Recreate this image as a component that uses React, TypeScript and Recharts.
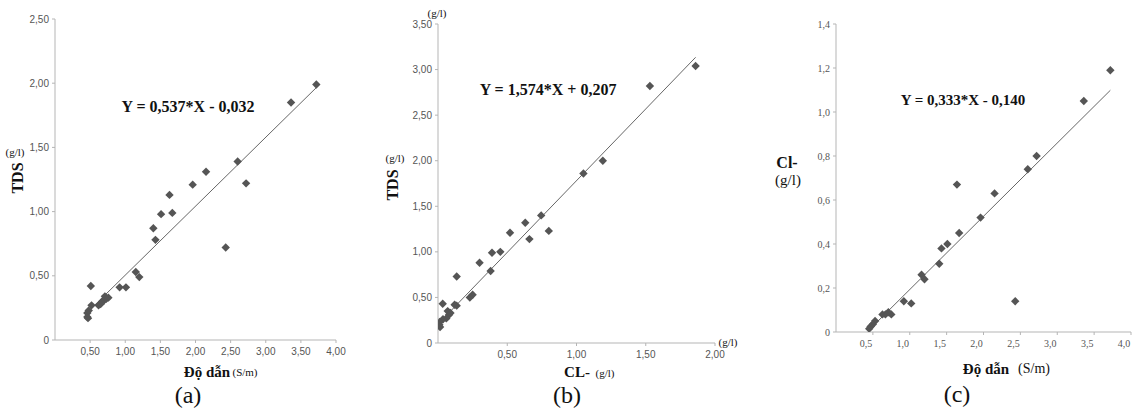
import React from "react";
import { ScatterChart, Scatter, XAxis, YAxis } from "recharts";

// (a) TDS vs conductivity
const condA = [3.72, 3.36, 2.6, 2.72, 2.43, 2.15, 1.96, 1.63, 1.67, 1.51, 1.4, 1.43, 1.15, 1.2, 1.01, 0.92, 0.51, 0.52, 0.62, 0.65, 0.67, 0.7, 0.71, 0.73, 0.76, 0.46, 0.46, 0.47, 0.48];
const tdsA = [1.99, 1.85, 1.39, 1.22, 0.72, 1.31, 1.21, 1.13, 0.99, 0.98, 0.87, 0.78, 0.53, 0.49, 0.41, 0.41, 0.42, 0.27, 0.27, 0.28, 0.3, 0.31, 0.34, 0.32, 0.33, 0.21, 0.18, 0.17, 0.23];

// (b) TDS vs Cl-
const clB = [1.86, 1.53, 1.19, 1.05, 0.745, 0.8, 0.63, 0.66, 0.52, 0.45, 0.39, 0.38, 0.3, 0.135, 0.25, 0.23, 0.135, 0.12, 0.034, 0.07, 0.08, 0.06, 0.036, 0.012, 0.01, 0.015, 0.09];
const tdsB = [3.04, 2.82, 2.0, 1.86, 1.4, 1.23, 1.32, 1.14, 1.21, 1.0, 0.99, 0.79, 0.88, 0.73, 0.53, 0.5, 0.41, 0.42, 0.43, 0.35, 0.31, 0.27, 0.26, 0.23, 0.2, 0.175, 0.33];

// (c) Cl- vs conductivity
const condC = [3.72, 3.36, 2.72, 2.6, 2.15, 1.96, 1.64, 1.67, 1.51, 1.43, 1.4, 1.16, 1.2, 0.92, 1.02, 2.43, 0.75, 0.71, 0.67, 0.63, 0.53, 0.5, 0.47, 0.45];
const clC = [1.19, 1.05, 0.8, 0.74, 0.63, 0.52, 0.67, 0.45, 0.4, 0.38, 0.31, 0.26, 0.24, 0.14, 0.13, 0.14, 0.08, 0.09, 0.08, 0.08, 0.05, 0.035, 0.025, 0.015];

const fitA = { slope: 0.537, intercept: -0.032, range: [0.46, 3.72] };
const fitB = { slope: 1.574, intercept: 0.207, range: [0.005, 1.86] };
const fitC = { slope: 0.333, intercept: -0.14, range: [0.46, 3.72] };

const ticksA = { x: [0.5, 1, 1.5, 2, 2.5, 3, 3.5, 4], y: [0, 0.5, 1, 1.5, 2, 2.5] };
const ticksB = { x: [0.5, 1, 1.5, 2], y: [0, 0.5, 1, 1.5, 2, 2.5, 3, 3.5] };
const ticksC = { x: [0.5, 1, 1.5, 2, 2.5, 3, 3.5, 4], y: [0, 0.2, 0.4, 0.6, 0.8, 1, 1.2, 1.4] };

const zip = (xs: number[], ys: number[]) => xs.map((x, i) => ({ x, y: ys[i] }));
const line = (f: { slope: number; intercept: number; range: number[] }) =>
  f.range.map((x) => ({ x, y: f.slope * x + f.intercept }));

const Diamond = (p: any) => {
  const { cx, cy } = p;
  const r = 4.2;
  return <path d={`M${cx},${cy - r}L${cx + r},${cy}L${cx},${cy + r}L${cx - r},${cy}Z`} fill="#555" />;
};

const fmt = (d: number) => (v: number) => (v === 0 ? "0" : v.toFixed(d).replace(".", ","));

const serif = "Liberation Serif, DejaVu Serif, Noto Serif, Times New Roman, serif";
const sans = "Liberation Sans, Arial, sans-serif";

const Txt = ({ x, y, size, bold, rot, children }: any) => (
  <div
    style={{
      position: "absolute",
      left: x,
      top: y,
      transform: `translate(-50%, -50%)${rot ? " rotate(-90deg)" : ""}`,
      fontFamily: serif,
      fontSize: size,
      fontWeight: bold ? "bold" : "normal",
      whiteSpace: "nowrap",
      color: "#111",
      lineHeight: 1,
    }}
  >
    {children}
  </div>
);

const Panel = ({ left, width, margin, points, fit, ticks, xMax, yMax, digits, tickFont, tickDx }: any) => {
  const tick = { fontSize: 10, fontFamily: tickFont, fill: "#555" };
  return (
    <div style={{ position: "absolute", left, top: 0 }}>
      <ScatterChart width={width} height={410} margin={margin}>
        <XAxis
          type="number"
          dataKey="x"
          domain={[0, xMax]}
          ticks={ticks.x}
          tickFormatter={fmt(digits)}
          height={30}
          tickSize={3}
          tickMargin={5}
          stroke="#b5b5b5"
          tick={{ ...tick, dx: tickDx }}
          allowDataOverflow
        />
        <YAxis
          type="number"
          dataKey="y"
          domain={[0, yMax]}
          ticks={ticks.y}
          tickFormatter={fmt(digits)}
          width={40}
          tickSize={3}
          tickMargin={3}
          stroke="#b5b5b5"
          tick={tick}
          allowDataOverflow
        />
        <Scatter data={fit} line={{ stroke: "#666", strokeWidth: 1 }} shape={() => <g />} isAnimationActive={false} />
        <Scatter data={points} shape={<Diamond />} isAnimationActive={false} />
      </ScatterChart>
    </div>
  );
};

export default function App() {
  return (
    <div style={{ position: "absolute", left: 0, top: 0, width: 1143, height: 410, background: "#fff", overflow: "hidden" }}>
      <Panel
        left={0}
        width={380}
        margin={{ top: 19, right: 44, bottom: 40, left: 15 }}
        points={zip(condA, tdsA)}
        fit={line(fitA)}
        ticks={ticksA}
        xMax={4}
        yMax={2.5}
        digits={2}
        tickFont={sans}
        tickDx={0}
      />
      <Panel
        left={380}
        width={380}
        margin={{ top: 24, right: 45, bottom: 37, left: 18 }}
        points={zip(clB, tdsB)}
        fit={line(fitB)}
        ticks={ticksB}
        xMax={2}
        yMax={3.5}
        digits={2}
        tickFont={sans}
        tickDx={0}
      />
      <Panel
        left={760}
        width={383}
        margin={{ top: 24, right: 12, bottom: 48, left: 36 }}
        points={zip(condC, clC)}
        fit={line(fitC)}
        ticks={ticksC}
        xMax={4}
        yMax={1.4}
        digits={1}
        tickFont={serif}
        tickDx={-7}
      />

      {/* (a) */}
      <Txt x={18} y={178} size={16} bold rot>TDS</Txt>
      <Txt x={15} y={152} size={11}>(g/l)</Txt>
      <Txt x={188} y={107} size={16} bold>Y = 0,537*X - 0,032</Txt>
      <Txt x={207} y={372} size={15} bold>Độ dẫn</Txt>
      <Txt x={245} y={372} size={11}>(S/m)</Txt>
      <Txt x={188} y={395} size={24}>(a)</Txt>

      {/* (b) */}
      <Txt x={393} y={185} size={16} bold rot>TDS</Txt>
      <Txt x={395} y={158} size={11}>(g/l)</Txt>
      <Txt x={437} y={13} size={11}>(g/l)</Txt>
      <Txt x={728} y={342} size={11}>(g/l)</Txt>
      <Txt x={548} y={90} size={16} bold>Y = 1,574*X + 0,207</Txt>
      <Txt x={577} y={372} size={15} bold>CL-</Txt>
      <Txt x={605} y={373} size={11}>(g/l)</Txt>
      <Txt x={567} y={395} size={24}>(b)</Txt>

      {/* (c) */}
      <Txt x={787} y={163} size={16} bold>Cl-</Txt>
      <Txt x={788} y={180} size={15}>(g/l)</Txt>
      <Txt x={963} y={100} size={15} bold>Y = 0,333*X - 0,140</Txt>
      <Txt x={986} y={369} size={15} bold>Độ dẫn</Txt>
      <Txt x={1034} y={369} size={14}>(S/m)</Txt>
      <Txt x={957} y={394} size={24}>(c)</Txt>
    </div>
  );
}
